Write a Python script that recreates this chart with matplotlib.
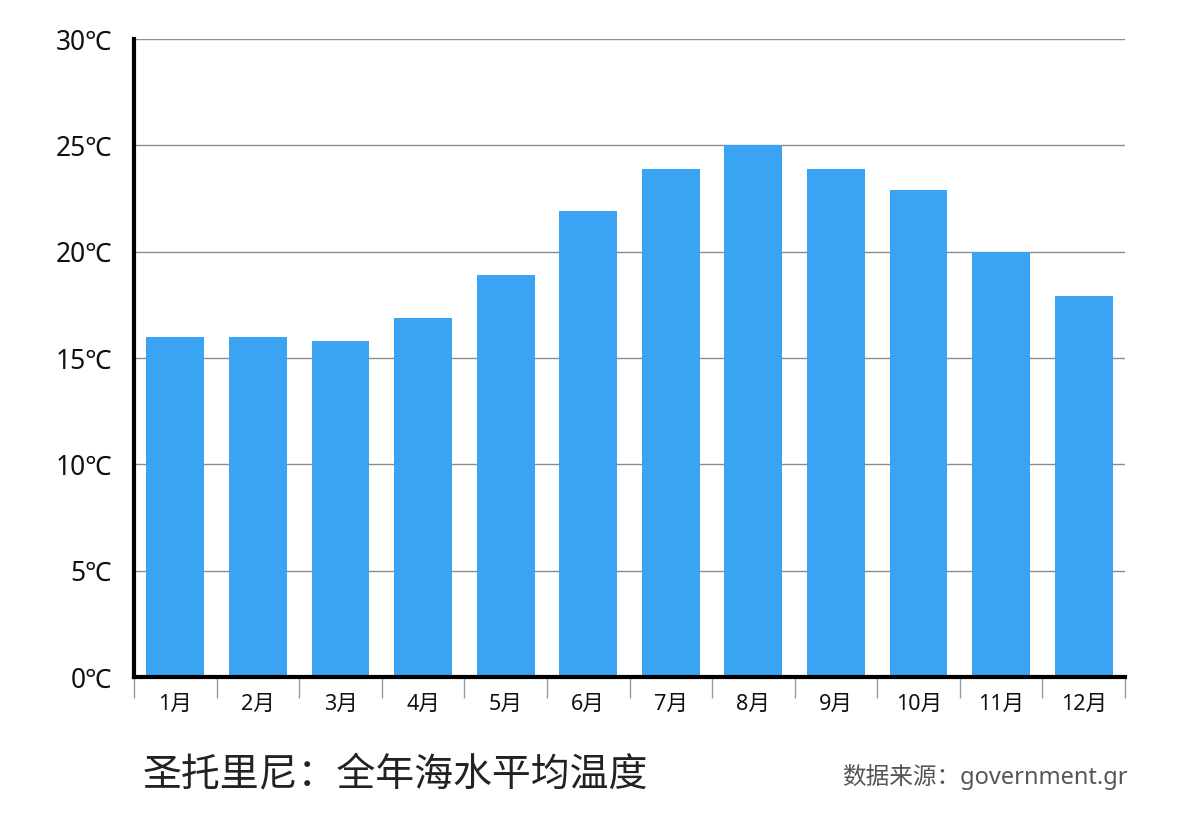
import numpy as np
import matplotlib
matplotlib.use("Agg")
import matplotlib.pyplot as plt

plt.rcParams["font.family"] = ["Noto Sans CJK SC", "DejaVu Sans"]
LATIN = ["Noto Sans", "Noto Sans CJK SC", "DejaVu Sans"]

# monthly mean sea temperature, Santorini
months = ["1月", "2月", "3月", "4月", "5月", "6月", "7月", "8月", "9月", "10月", "11月", "12月"]
temps = [16.0, 16.0, 15.8, 16.9, 18.9, 21.9, 23.9, 25.0, 23.9, 22.9, 20.0, 17.9]
yticks = [0, 5, 10, 15, 20, 25, 30]
ylabels = [f"{t}℃" for t in yticks]

fig = plt.figure(figsize=(12, 8.3), dpi=100)
ax = fig.add_axes([0.1117, 0.1843, 0.8258, 0.7687])

x = np.arange(len(months))
ax.bar(x, temps, width=0.70, color="#3AA3F2", zorder=3)

ax.set_xlim(-0.5, len(months) - 0.5)
ax.set_ylim(0, 30)
ax.set_yticks(yticks)
ax.set_yticklabels(ylabels, fontsize=19, color="#111111", family=LATIN)
ax.tick_params(axis="y", length=0, pad=16)

# boundary ticks (major, unlabelled) + centred labels (minor)
ax.set_xticks(np.arange(-0.5, len(months), 1.0))
ax.set_xticklabels([])
ax.tick_params(axis="x", which="major", length=15, width=1, color="#999999", direction="out")
ax.set_xticks(x, minor=True)
ax.set_xticklabels(months, minor=True, fontsize=15.5, color="#111111", family=LATIN)
ax.tick_params(axis="x", which="minor", length=0, pad=12)

ax.yaxis.grid(True, color="#8c8c8c", lw=1, zorder=0)
ax.set_axisbelow(True)
for s in ["top", "right"]:
    ax.spines[s].set_visible(False)
for s in ["left", "bottom"]:
    ax.spines[s].set_linewidth(3)
    ax.spines[s].set_color("black")
    ax.spines[s].set_zorder(4)

fig.text(143 / 1200, 1 - 775 / 830, "圣托里尼：全年海水平均温度", fontsize=28,
         color="#222222", va="center", ha="left")
fig.text(1128 / 1200, 1 - 777 / 830, "数据来源：government.gr", fontsize=17,
         color="#555555", va="center", ha="right", family=LATIN)

fig.savefig("out.png", dpi=100, facecolor="white")
